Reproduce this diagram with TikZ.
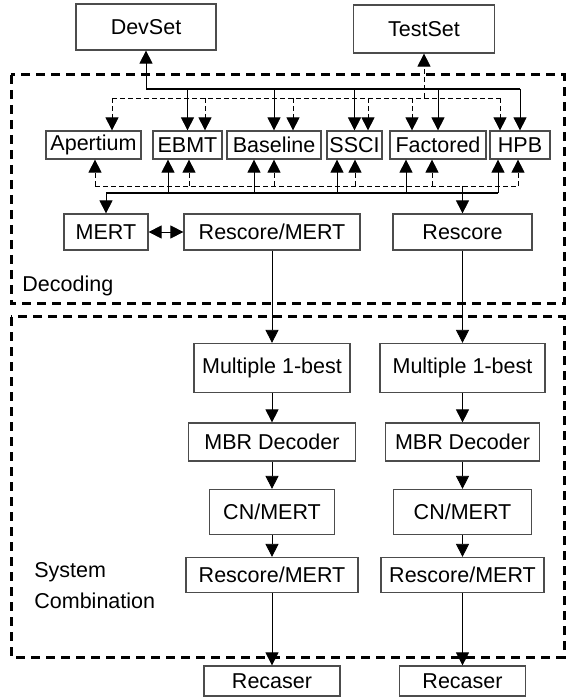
\documentclass[tikz,border=0pt]{standalone}
\usepackage{fontspec}
\setmainfont{Liberation Sans}
\usepackage{tikz}
\usetikzlibrary{arrows.meta,positioning,calc}
\tikzset{blk/.style={draw=black!70,line width=0.6pt,inner sep=1pt,align=center}}
\tikzstyle{bus}=[-,line width=1pt]
\tikzstyle{dsh}=[dash pattern=on 2.5pt off 1.5pt]
\tikzstyle{region}=[-,line width=1.5pt,dash pattern=on 4.5pt off 3pt]

\begin{document}
\begin{tikzpicture}[->,x=0.5pt,y=-0.5pt,node distance=1cm,>={Triangle[length=6.5pt,width=6.5pt]},
    font=\fontsize{10.75}{15.5}\selectfont]
    \useasboundingbox (0,0) rectangle (567,699);
    % data sets
    \node (dev) [blk,minimum width=70pt,minimum height=23pt] at (146,27) {DevSet};
    \node (test) [blk,right of=dev,node distance=139pt,yshift=-1pt,minimum width=70.5pt,minimum height=24pt] {TestSet};
    % single systems
    \node (apt) [blk,minimum width=47.5pt,minimum height=14pt] at (93.5,145) {Apertium};
    \node (ebmt) [blk,right of=apt,node distance=47pt,minimum width=34.5pt,minimum height=14pt] {EBMT};
    \node (base) [blk,right of=ebmt,node distance=43.25pt,minimum width=47pt,minimum height=14pt] {Baseline};
    \node (ssci) [blk,right of=base,node distance=40.25pt,minimum width=27.5pt,minimum height=14pt] {SSCI};
    \node (fact) [blk,right of=ssci,node distance=41.75pt,minimum width=48pt,minimum height=14pt] {Factored};
    \node (hpb) [blk,right of=fact,node distance=41pt,minimum width=30pt,minimum height=14pt] {HPB};
    % tuning
    \node (mert) [blk,minimum width=42pt,minimum height=18pt] at (106,232) {MERT};
    \node (rsm) [blk,right of=mert,node distance=83pt,minimum width=88pt,minimum height=18pt] {Rescore/MERT};
    \node (rsc) [blk,right of=rsm,node distance=95.25pt,minimum width=69.5pt,minimum height=18pt] {Rescore};
    % combination, dev side
    \node (mb1) [blk,below of=rsm,node distance=68pt,minimum width=78pt,minimum height=24.5pt] {Multiple 1-best};
    \node (mbr1) [blk,below of=mb1,node distance=37pt,minimum width=83.5pt,minimum height=19pt] {MBR Decoder};
    \node (cn1) [blk,below of=mbr1,node distance=35pt,minimum width=62.5pt,minimum height=22.5pt] {CN/MERT};
    \node (rs1) [blk,below of=cn1,node distance=31.5pt,minimum width=86pt,minimum height=17.5pt] {Rescore/MERT};
    \node (rec1) [blk,below of=rs1,node distance=53pt,minimum width=68pt,minimum height=15pt] {Recaser};
    % combination, test side
    \node (mb2) [blk,below of=rsc,node distance=68pt,minimum width=82.5pt,minimum height=24.5pt] {Multiple 1-best};
    \node (mbr2) [blk,below of=mb2,node distance=37pt,minimum width=77pt,minimum height=19pt] {MBR Decoder};
    \node (cn2) [blk,below of=mbr2,node distance=35pt,minimum width=69pt,minimum height=22.5pt] {CN/MERT};
    \node (rs2) [blk,below of=cn2,node distance=31.5pt,minimum width=81.5pt,minimum height=17.5pt] {Rescore/MERT};
    \node (rec2) [blk,below of=rs2,node distance=53pt,minimum width=63pt,minimum height=15pt] {Recaser};
    \node (dec) [anchor=west,inner sep=0pt] at (22,286) {Decoding};
    \node (sc) [anchor=west,inner sep=0pt,align=left] at (34,586) {System\\Combination};
    \draw[region] (11,75) rectangle (564,304);
    \draw[region] (11,317) rectangle (564,657);
    % inputs from the sets
    \coordinate (ubus) at (0,89);
    \coordinate (tbus) at (0,98);
    \draw[bus] (dev |- ubus) -- (hpb |- ubus);
    \draw (dev |- ubus) -- (dev);
    \foreach \n in {ebmt,base,ssci,fact,hpb}
        \draw (\n |- ubus) -- (\n);
    \draw[dsh,-] ($(apt |- tbus)+(9.25pt,0)$) -- ($(hpb |- tbus)+(-10pt,0)$);
    \draw[dsh] (test |- tbus) -- (test);
    \foreach \n/\dx in {apt/9.25,ebmt/8.75,base/9.5,ssci/6.75,fact/-13,hpb/-10}
        \draw[dsh] ($(\n |- tbus)+(\dx pt,0)$) -- ($(\n.north)+(\dx pt,0)$);
    % outputs of the systems
    \coordinate (ldsh) at (0,186);
    \coordinate (lsol) at (0,193);
    \draw[dsh,-] ($(apt |- ldsh)+(0.75pt,0)$) -- ($(hpb |- ldsh)+(-1pt,0)$);
    \draw[bus] (mert |- lsol) -- ($(hpb |- lsol)+(-11pt,0)$);
    \foreach \n/\dx in {apt/0.75,ebmt/0.75,base/0,ssci/0.25,fact/-3,hpb/-1}
        \draw[dsh] ($(\n |- ldsh)+(\dx pt,0)$) -- ($(\n.south)+(\dx pt,0)$);
    \foreach \n/\dx in {ebmt/-9.75,base/-10,ssci/-8.75,fact/-16,hpb/-11}
        \draw ($(\n |- lsol)+(\dx pt,0)$) -- ($(\n.south)+(\dx pt,0)$);
    \draw (mert |- lsol) -- (mert);
    \draw (rsc |- ldsh) -- (rsc);
    \draw[<->] (mert) -- (rsm);
    % system combination
    \draw (rsm) -- (mb1);
    \draw (mb1) -- (mbr1);
    \draw (mbr1) -- (cn1);
    \draw (cn1) -- (rs1);
    \draw (rs1) -- (rec1);
    \draw (rsc) -- (mb2);
    \draw (mb2) -- (mbr2);
    \draw (mbr2) -- (cn2);
    \draw (cn2) -- (rs2);
    \draw (rs2) -- (rec2);
\end{tikzpicture}
\end{document}
